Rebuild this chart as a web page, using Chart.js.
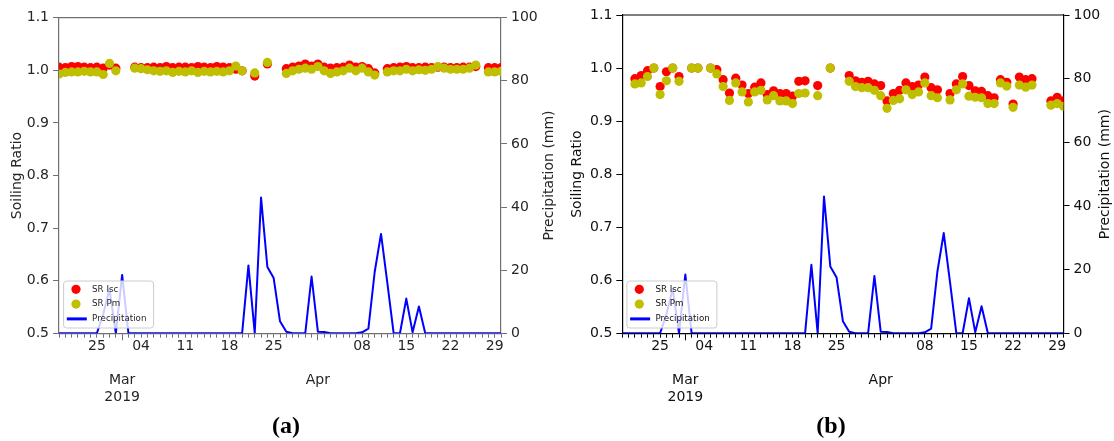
<!DOCTYPE html>
<html><head><meta charset="utf-8">
<script src="https://cdn.jsdelivr.net/npm/chart.js@4.4.1/dist/chart.umd.min.js"></script>
<style>
html,body{margin:0;padding:0;background:#fff;}
#wrap{position:relative;width:1114px;height:441px;overflow:hidden;background:#fff;}
canvas{position:absolute;top:0;}
.cap{position:absolute;font-family:'Liberation Serif','Times New Roman',serif;font-weight:bold;font-size:24px;line-height:24px;transform:translate(-50%,-50%);color:#000;white-space:nowrap;}
</style></head><body>
<div id="wrap">
<canvas id="ca" width="557" height="441" style="left:0px"></canvas>
<canvas id="cb" width="557" height="441" style="left:557px"></canvas>
<div class="cap" style="left:286px;top:425px">(a)</div>
<div class="cap" style="left:831px;top:425px">(b)</div>
</div>
<script>
// ---------------- DATA ----------------
const precipDates = [
 '02-19','02-20','02-21','02-22','02-23','02-24','02-25','02-26','02-27','02-28',
 '03-01','03-02','03-03','03-04','03-05','03-06','03-07','03-08','03-09','03-10','03-11','03-12','03-13','03-14','03-15','03-16',
 '03-17','03-18','03-19','03-20','03-21','03-22','03-23','03-24','03-25','03-26','03-27','03-28','03-29','03-30','03-31',
 '04-01','04-02','04-03','04-04','04-05','04-06','04-07','04-08','04-09','04-10','04-11','04-12','04-13','04-14','04-15',
 '04-16','04-17','04-18','04-19','04-20','04-21','04-22','04-23','04-24','04-25','04-26','04-27','04-28','04-29','04-30'];
const precipMm = [
 0,0,0,0,0,0,0,6,14,0,
 18.5,0,0,0,0,0,0,0,0,0,0,0,0,0,0,0,
 0,0,0,0,21.5,0,43,21,17.5,3.8,0.5,0,0,0,18,
 0.5,0.4,0,0,0,0,0,0.3,1.5,19.5,31.5,16,0,0,11,
 0.3,8.5,0,0,0,0,0,0,0,0,0,0,0,0,0];

const aDates = [
 '02-19','02-20','02-21','02-22','02-23','02-24','02-25','02-26','02-27','02-28',
 '03-03','03-04','03-05','03-06','03-07','03-08','03-09','03-10','03-11','03-12','03-13','03-14','03-15','03-16','03-17','03-18','03-19','03-20',
 '03-22','03-24',
 '03-27','03-28','03-29','03-30','03-31','04-01','04-02','04-03','04-04','04-05','04-06','04-07','04-08','04-09','04-10',
 '04-12','04-13','04-14','04-15','04-16','04-17','04-18','04-19','04-20','04-21','04-22','04-23','04-24','04-25','04-26',
 '04-28','04-29','04-30'];
const aSrIsc = [
 1.006,1.005,1.007,1.007,1.006,1.005,1.006,1.004,1.010,1.004,
 1.006,1.005,1.005,1.006,1.005,1.007,1.005,1.006,1.006,1.005,1.007,1.006,1.005,1.007,1.006,1.005,1.002,0.999,
 0.989,1.012,
 1.003,1.006,1.008,1.012,1.008,1.012,1.006,1.004,1.005,1.006,1.010,1.006,1.007,1.003,0.995,
 1.003,1.005,1.006,1.007,1.005,1.005,1.006,1.005,1.006,1.006,1.005,1.005,1.006,1.006,1.007,
 1.005,1.005,1.005];
const aSrPm = [
 0.993,0.996,0.997,0.997,0.998,0.997,0.997,0.992,1.013,0.999,
 1.004,1.003,1.001,0.999,0.998,0.999,0.996,0.998,0.997,0.999,0.996,0.998,0.997,0.998,0.997,0.999,1.008,0.999,
 0.995,1.015,
 0.994,0.999,1.002,1.004,1.002,1.007,0.999,0.994,0.997,0.999,1.004,0.999,1.004,0.997,0.991,
 0.997,0.999,0.999,1.002,0.999,1.001,1.000,1.002,1.007,1.004,1.002,1.002,1.002,1.004,1.010,
 0.997,0.997,0.998];

const bDates = [
 '02-21','02-22','02-23','02-24','02-25','02-26','02-27','02-28',
 '03-02','03-03',
 '03-05','03-06','03-07','03-08','03-09','03-10','03-11','03-12','03-13','03-14','03-15','03-16','03-17','03-18','03-19','03-20',
 '03-22','03-24',
 '03-27','03-28','03-29','03-30','03-31','04-01','04-02','04-03','04-04','04-05','04-06','04-07','04-08','04-09','04-10',
 '04-12','04-13','04-14','04-15','04-16','04-17','04-18','04-19','04-20','04-21','04-22','04-23','04-24','04-25',
 '04-28','04-29','04-30'];
const bSrIsc = [
 0.980,0.986,0.995,1.000,0.965,0.993,1.000,0.984,
 1.000,1.000,
 1.000,0.997,0.978,0.953,0.981,0.968,0.952,0.964,0.972,0.950,0.957,0.952,0.952,0.947,0.975,0.976,
 0.967,1.000,
 0.986,0.976,0.973,0.975,0.970,0.967,0.938,0.952,0.958,0.972,0.965,0.968,0.983,0.963,0.959,
 0.952,0.970,0.984,0.967,0.957,0.956,0.948,0.944,0.978,0.973,0.932,0.983,0.978,0.980,
 0.938,0.945,0.938];
const bSrPm = [
 0.970,0.972,0.984,1.000,0.950,0.976,1.000,0.975,
 1.000,1.000,
 1.000,0.989,0.965,0.939,0.972,0.955,0.936,0.955,0.958,0.940,0.948,0.938,0.938,0.933,0.952,0.953,
 0.948,1.000,
 0.975,0.965,0.963,0.963,0.958,0.948,0.924,0.939,0.942,0.959,0.950,0.955,0.972,0.948,0.944,
 0.940,0.959,0.970,0.947,0.945,0.944,0.933,0.933,0.972,0.966,0.926,0.968,0.964,0.968,
 0.930,0.933,0.928];

const srTicks = [0.5, 0.6, 0.7, 0.8, 0.9, 1.0, 1.1];
const precipTicks = [0, 20, 40, 60, 80, 100];
const dayTickDates = ['02-25','03-04','03-11','03-18','03-25','04-08','04-15','04-22','04-29'];
const dayTickLabels = ['25','04','11','18','25','08','15','22','29'];
const monthTickDates = ['03-01','04-01'];
const monthTickLabels = [['Mar','2019'], ['Apr']];

// ---------------- HELPERS ----------------
Chart.defaults.font.family = "'DejaVu Sans', 'Liberation Sans', sans-serif";
const START = Date.UTC(2019, 1, 19);
function dayOf(s) { const p = s.split('-'); return Math.round((Date.UTC(2019, +p[0] - 1, +p[1]) - START) / 86400000); }
const allDays = precipDates.map(dayOf);
const dayIdx = dayTickDates.map(dayOf);
const monthIdx = monthTickDates.map(dayOf);

const framePlugin = {
  id: 'frameTop',
  beforeDatasetsDraw(chart, args, o) {
    const {ctx, chartArea: a} = chart;
    ctx.save();
    ctx.strokeStyle = o.color; ctx.lineWidth = o.width;
    ctx.beginPath(); ctx.moveTo(a.left, a.top); ctx.lineTo(a.right, a.top); ctx.stroke();
    ctx.restore();
  }
};
const rightTitlePlugin = {
  id: 'rightTitle',
  afterDraw(chart, args, o) {
    const {ctx, chartArea: a} = chart;
    ctx.save();
    ctx.translate(o.x, (a.top + a.bottom) / 2);
    ctx.rotate(-Math.PI / 2);
    ctx.font = "14px 'DejaVu Sans'";
    ctx.fillStyle = o.color; ctx.textAlign = 'center'; ctx.textBaseline = 'middle';
    ctx.fillText(o.text, 0, 0);
    ctx.restore();
  }
};
const boxLegendPlugin = {
  id: 'boxLegend',
  afterDraw(chart, args, o) {
    const {ctx, chartArea: a} = chart;
    const x0 = a.left + o.dx, y1 = a.bottom - o.dy, y0 = y1 - o.h;
    ctx.save();
    ctx.beginPath();
    ctx.roundRect(x0, y0, o.w, o.h, 3);
    ctx.fillStyle = 'rgba(255,255,255,0.8)'; ctx.fill();
    ctx.strokeStyle = '#cccccc'; ctx.lineWidth = 1; ctx.stroke();
    ctx.font = o.fontSize + "px 'DejaVu Sans'";
    ctx.textBaseline = 'middle'; ctx.textAlign = 'left';
    chart.data.datasets.forEach((ds, i) => {
      const cy = y0 + o.rowTop + i * o.rowGap;
      if (ds.type === 'line') {
        ctx.strokeStyle = ds.borderColor; ctx.lineWidth = 3;
        ctx.beginPath(); ctx.moveTo(x0 + o.hx0, cy); ctx.lineTo(x0 + o.hx1, cy); ctx.stroke();
      } else {
        ctx.fillStyle = ds.backgroundColor;
        ctx.beginPath(); ctx.arc(x0 + o.mx, cy, o.mr, 0, Math.PI * 2); ctx.fill();
      }
      ctx.fillStyle = o.color;
      ctx.fillText(ds.label, x0 + o.tx, cy);
    });
    ctx.restore();
  }
};

function panel(id, o) {
  return new Chart(document.getElementById(id), {
    type: 'scatter',
    data: {
      datasets: [
        { label: 'SR Isc', data: o.dates.map((d, i) => ({x: dayOf(d), y: o.isc[i]})),
          backgroundColor: '#ff0000', borderColor: '#ff0000', borderWidth: 0, pointRadius: 4.6,
          pointHoverRadius: 4.6, yAxisID: 'y', order: 3 },
        { label: 'SR Pm', data: o.dates.map((d, i) => ({x: dayOf(d), y: o.pm[i]})),
          backgroundColor: '#bfbf00', borderColor: '#bfbf00', borderWidth: 0, pointRadius: 4.6,
          pointHoverRadius: 4.6, yAxisID: 'y', order: 2 },
        { label: 'Precipitation', type: 'line', data: precipDates.map((d, i) => ({x: dayOf(d), y: precipMm[i]})),
          borderColor: '#0000ff', backgroundColor: '#0000ff', borderWidth: 2, pointRadius: 0, pointHoverRadius: 0,
          tension: 0, fill: false, showLine: true, borderJoinStyle: 'round', yAxisID: 'y1', order: 1 }
      ]
    },
    options: {
      responsive: false, animation: false, events: [],
      layout: { padding: { top: o.top, left: 0, right: 0, bottom: 0 } },
      plugins: {
        legend: { display: false }, tooltip: { enabled: false },
        frameTop: { color: o.frame, width: o.bw },
        rightTitle: { x: o.rtx, text: 'Precipitation (mm)', color: o.text },
        boxLegend: { dx: 4.6, dy: 5.3, w: 90, h: 47, rowTop: 8.3, rowGap: 14.8, mx: 12.4, mr: 4.6,
                     tx: 28.5, hx0: 3.2, hx1: 23.2, fontSize: 8.7, color: o.text }
      },
      scales: {
        x: {
          type: 'linear', position: 'bottom', min: 0, max: 70,
          afterBuildTicks: s => { s.ticks = allDays.map(v => ({value: v})); },
          afterFit: s => { s.height = 441 - o.bottom; },
          grid: { display: true, drawOnChartArea: false, drawTicks: true, tickLength: 7,
                  color: o.frame, tickColor: o.frame, tickWidth: 1,
                  tickBorderDash: c => (c.tick && monthIdx.includes(c.tick.value)) ? [] : [3.5, 20] },
          border: { display: true, color: o.frame, width: o.bw },
          ticks: { autoSkip: false, maxRotation: 0, minRotation: 0, padding: -2, color: o.text,
                   font: { size: 14, lineHeight: '17px' },
                   callback: v => {
                     const mi = monthIdx.indexOf(v);
                     if (mi >= 0) return ['', ''].concat(monthTickLabels[mi]);
                     const di = dayIdx.indexOf(v);
                     return di >= 0 ? dayTickLabels[di] : '';
                   } }
        },
        y: {
          type: 'linear', position: 'left', min: 0.5, max: 1.1,
          afterBuildTicks: s => { s.ticks = srTicks.map(v => ({value: v})); },
          afterFit: s => { s.width = o.yw; },
          grid: { display: true, drawOnChartArea: false, tickLength: 6, color: o.frame, tickColor: o.frame },
          border: { display: true, color: o.frame, width: o.bw },
          ticks: { padding: 4, color: o.text, font: { size: 14 }, callback: v => v.toFixed(1) },
          title: { display: true, text: 'Soiling Ratio', color: o.text, font: { size: 14 },
                   padding: { top: o.ytp, bottom: 0 } }
        },
        y1: {
          type: 'linear', position: 'right', min: 0, max: 100,
          afterBuildTicks: s => { s.ticks = precipTicks.map(v => ({value: v})); },
          afterFit: s => { s.width = o.y1w; },
          grid: { display: true, drawOnChartArea: false, tickLength: 6, color: o.frame, tickColor: o.frame },
          border: { display: true, color: o.frame, width: o.bw },
          ticks: { padding: 4, color: o.text, font: { size: 14 }, callback: v => String(v) },
          title: { display: false }
        }
      }
    },
    plugins: [framePlugin, rightTitlePlugin, boxLegendPlugin]
  });
}

panel('ca', { dates: aDates, isc: aSrIsc, pm: aSrPm, top: 17.7, bottom: 333.3, yw: 59, y1w: 56,
              ytp: 8.6, rtx: 549, frame: '#707070', text: '#262626', bw: 1.2 });
panel('cb', { dates: bDates, isc: bSrIsc, pm: bSrPm, top: 15, bottom: 333.3, yw: 65.3, y1w: 50.5,
              ytp: 11.6, rtx: 548, frame: '#000000', text: '#111111', bw: 1.2 });
</script>
</body></html>
